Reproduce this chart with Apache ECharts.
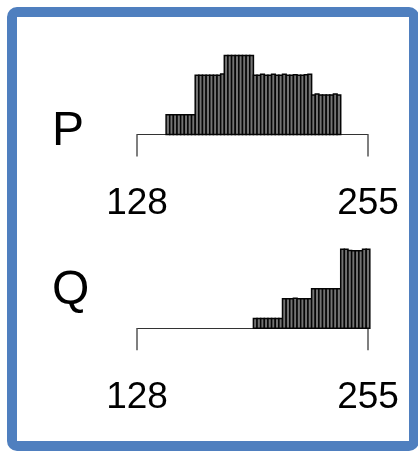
<!DOCTYPE html>
<html>
<head>
<meta charset="utf-8">
<style>
  html, body { margin: 0; padding: 0; background: #ffffff; }
  #chart { width: 418px; height: 451px; }
</style>
<script src="https://cdn.jsdelivr.net/npm/echarts@6/dist/echarts.min.js"></script>
</head>
<body>
<div id="chart"></div>
<script>
// Histogram bins: each bin starts at the listed grey level and is BIN_WIDTH wide
const BIN_WIDTH = 2;
const axisTicks = [128, 255];
const axisMin = 128;
const axisMax = 255;

const pBins = [144,146,148,150,152,154,156,158,
               160,162,164,166,168,170,172,174,
               176,178,180,182,184,186,188,190,
               192,194,196,198,200,202,204,206,208,210,212,214,216,218,220,222,
               224,226,228,230,232,234,236,238];
const pCounts = [1,1,1,1,1,1,1,1,
                 3,3,3,3,3,3,3,3.06,
                 4,4,4,4,4,4,4,4,
                 3,3,3.05,3,3,3.05,3,3,3.05,3,3,3.03,3,3,3.03,3.05,
                 2,2.05,2,2,2,2,2.05,2];

const qBins = [192,194,196,198,200,202,204,206,
               208,210,212,214,216,218,220,222,
               224,226,228,230,232,234,236,238,
               240,242,244,246,248,250,252,254];
const qCounts = [0.5,0.5,0.5,0.5,0.5,0.5,0.5,0.5,
                 1.5,1.5,1.5,1.52,1.5,1.5,1.5,1.5,
                 2,2,2,2,2,2,2,2,
                 4,4,3.94,3.93,3.93,3.93,4,4];

const panelNames = ['P', 'Q'];

function zip(bins, counts) {
  return bins.map((b, i) => [b, counts[i]]);
}

function renderBin(params, api) {
  const x0 = api.value(0);
  const h = api.value(1);
  const top = api.coord([x0, h]);
  const bottom = api.coord([x0 + BIN_WIDTH, 0]);
  return {
    type: 'rect',
    shape: { x: top[0], y: top[1], width: bottom[0] - top[0], height: bottom[1] - top[1] },
    style: { fill: '#737373', stroke: '#050505', lineWidth: 1.5 }
  };
}

function makeXAxis(gridIndex) {
  return {
    type: 'value', gridIndex: gridIndex, min: axisMin, max: axisMax,
    splitLine: { show: false },
    axisLine: { show: true, onZero: true, lineStyle: { color: '#333333', width: 1.2 } },
    axisTick: { show: true, customValues: axisTicks, length: 22, lineStyle: { color: '#555555', width: 1.5 } },
    axisLabel: { show: true, customValues: axisTicks, margin: 51, fontSize: 37,
                 fontFamily: 'Liberation Sans', color: '#000000' }
  };
}

function makeYAxis(gridIndex) {
  return { type: 'value', gridIndex: gridIndex, min: 0, max: 4, show: false };
}

const chart = echarts.init(document.getElementById('chart'), null, { renderer: 'canvas' });
chart.setOption({
  animation: false,
  backgroundColor: '#ffffff',
  grid: [
    { left: 137, width: 231, top: 55.5, height: 79 },
    { left: 137, width: 231, top: 249.3, height: 79 }
  ],
  xAxis: [makeXAxis(0), makeXAxis(1)],
  yAxis: [makeYAxis(0), makeYAxis(1)],
  series: [
    { type: 'custom', xAxisIndex: 0, yAxisIndex: 0, renderItem: renderBin, data: zip(pBins, pCounts), clip: false },
    { type: 'custom', xAxisIndex: 1, yAxisIndex: 1, renderItem: renderBin, data: zip(qBins, qCounts), clip: false }
  ],
  graphic: [
    { type: 'rect', shape: { x: 12, y: 12, width: 402, height: 434, r: 5 },
      style: { fill: 'none', stroke: '#4f7fbf', lineWidth: 10 }, z: 10 },
    { type: 'text', left: 52, top: 108,
      style: { text: panelNames[0], font: '48px "Liberation Sans"', fill: '#000000' } },
    { type: 'text', left: 52, top: 267,
      style: { text: panelNames[1], font: '48px "Liberation Sans"', fill: '#000000' } }
  ]
});
</script>
</body>
</html>
